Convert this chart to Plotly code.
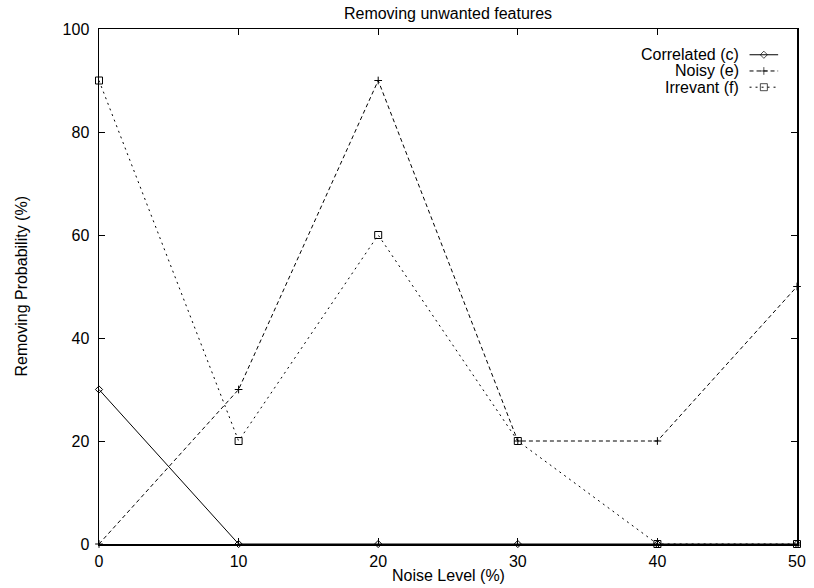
import plotly.graph_objects as go

noise = [0, 10, 20, 30, 40, 50]
correlated = [30, 0, 0, 0, 0, 0]
noisy = [0, 30, 90, 20, 20, 50]
irrelevant = [90, 20, 60, 20, 0, 0]

x_ticks = [0, 10, 20, 30, 40, 50]
y_ticks = [0, 20, 40, 60, 80, 100]

names = ["Correlated (c)", "Noisy (e)", "Irrevant (f)"]
dashes = ["solid", "4px,3px", "2px,4px"]
symbols = ["diamond-open", "cross-thin-open", "square-open"]
sizes = [5.5, 5.5, 7]

FONT = "Liberation Sans, Arial, Helvetica, sans-serif"
FS = 16
fig = go.Figure()
for vals, nm, d, s, sz in zip([correlated, noisy, irrelevant], names, dashes, symbols, sizes):
    fig.add_trace(go.Scatter(
        x=noise, y=vals, mode="lines+markers", name=nm, showlegend=False,
        line=dict(color="black", width=1, dash=d),
        marker=dict(symbol=s, size=sz, color="black", line=dict(color="black", width=1)),
        cliponaxis=False,
    ))

# gnuplot-style key (text on the left, sample on the right)
leg_y = [0.950, 0.9185, 0.887]
x_text = 0.918
x0, x1 = 0.932, 0.973
for nm, d, s, sz, yy in zip(names, dashes, symbols, sizes, leg_y):
    fig.add_annotation(x=x_text, y=yy, xref="paper", yref="paper", text=nm,
                       showarrow=False, xanchor="right", yanchor="middle", borderpad=0,
                       font=dict(family=FONT, size=FS, color="black"))
    fig.add_trace(go.Scatter(
        x=[x0, (x0 + x1) / 2, x1], y=[yy, yy, yy], xaxis="x2", yaxis="y2",
        mode="lines+markers", showlegend=False, hoverinfo="skip",
        line=dict(color="black", width=1, dash=d),
        marker=dict(symbol=s, size=[0, sz, 0], color="black", line=dict(color="black", width=1)),
    ))

# axis titles
fig.add_annotation(x=0.5, y=0, xref="paper", yref="paper", text="Noise Level (%)",
                   showarrow=False, xanchor="center", yanchor="middle", yshift=-31,
                   font=dict(family=FONT, size=FS, color="black"))
fig.add_annotation(x=0, y=0.5, xref="paper", yref="paper", text="Removing Probability (%)",
                   showarrow=False, xanchor="center", yanchor="middle", xshift=-78, textangle=-90,
                   font=dict(family=FONT, size=FS, color="black"))

axis_common = dict(showgrid=False, zeroline=False, showline=True, linecolor="black",
                   linewidth=1.5, mirror="ticks", ticks="inside", ticklen=6,
                   tickcolor="black", tickfont=dict(family=FONT, size=FS, color="black"))
fig.update_layout(
    width=814, height=588,
    margin=dict(l=99, r=8, t=29, b=44),
    paper_bgcolor="white", plot_bgcolor="white",
    title=dict(text="Removing unwanted features", x=0.5, xref="paper", xanchor="center",
               y=0.978, yanchor="middle",
               font=dict(family=FONT, size=FS, color="black")),
    xaxis=dict(range=[0, 50], tickvals=x_ticks, ticklabelstandoff=2, **axis_common),
    yaxis=dict(range=[0, 100], tickvals=y_ticks, ticklabelstandoff=5, **axis_common),
    xaxis2=dict(range=[0, 1], overlaying="x", visible=False, fixedrange=True),
    yaxis2=dict(range=[0, 1], overlaying="y", visible=False, fixedrange=True),
    showlegend=False,
)
fig.write_html("out.html", config={"displayModeBar": False, "staticPlot": True},
               post_script="document.body.style.margin='0';document.body.style.overflow='hidden';")
